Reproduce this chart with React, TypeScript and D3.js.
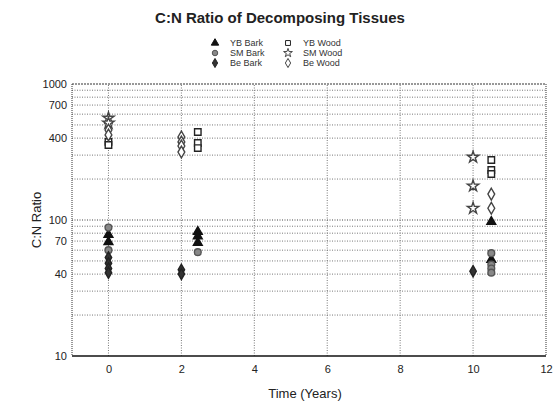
import React, { useRef, useEffect } from "react";
import * as d3 from "d3";

// C:N ratio readings, by tissue type; t = years since start
const ybBark = [
  { t: 0, v: 78 }, { t: 0, v: 69 },
  { t: 2.45, v: 82 }, { t: 2.45, v: 76 }, { t: 2.45, v: 68 },
  { t: 10.5, v: 97 }, { t: 10.5, v: 51 },
];
const ybWood = [
  { t: 0, v: 375 }, { t: 0, v: 356 },
  { t: 2.45, v: 444 }, { t: 2.45, v: 368 }, { t: 2.45, v: 338 },
  { t: 10.5, v: 276 }, { t: 10.5, v: 233 }, { t: 10.5, v: 218 },
];
const smBark = [
  { t: 0, v: 88 }, { t: 0, v: 60 },
  { t: 2.45, v: 58 },
  { t: 10.5, v: 57 }, { t: 10.5, v: 47 }, { t: 10.5, v: 44 }, { t: 10.5, v: 41 },
];
const smWood = [
  { t: 0, v: 562 }, { t: 0, v: 517 },
  { t: 10, v: 290 }, { t: 10, v: 178 }, { t: 10, v: 122 },
];
const beBark = [
  { t: 0, v: 53 }, { t: 0, v: 48 }, { t: 0, v: 44 }, { t: 0, v: 41 },
  { t: 2, v: 43 }, { t: 2, v: 40 },
  { t: 10, v: 42 },
];
const beWood = [
  { t: 0, v: 459 }, { t: 0, v: 422 },
  { t: 2, v: 408 }, { t: 2, v: 375 }, { t: 2, v: 350 }, { t: 2, v: 316 },
  { t: 10.5, v: 155 }, { t: 10.5, v: 122 },
];

const xTicks = [0, 2, 4, 6, 8, 10, 12];
const yLabels = [10, 40, 70, 100, 400, 700, 1000];

const series = [
  { name: "YB Bark", data: ybBark, sym: d3.symbolTriangle, fill: "#111", stroke: "#111", size: 34 },
  { name: "YB Wood", data: ybWood, sym: d3.symbolSquare, fill: "#fff", stroke: "#222", size: 42 },
  { name: "SM Bark", data: smBark, sym: d3.symbolCircle, fill: "#888", stroke: "#555", size: 36 },
  { name: "SM Wood", data: smWood, sym: d3.symbolStar, fill: "#fff", stroke: "#444", size: 40 },
  { name: "Be Bark", data: beBark, sym: d3.symbolDiamond, fill: "#333", stroke: "#222", size: 36 },
  { name: "Be Wood", data: beWood, sym: d3.symbolDiamond, fill: "#fff", stroke: "#444", size: 40 },
];

function App() {
  const svgRef = useRef<any>();

  useEffect(() => {
    const svg = d3.select(svgRef.current);
    svg.selectAll("*").remove();

    const x = d3.scaleLinear().domain([-1, 12]).range([72, 546]);
    const y = d3.scaleLog().domain([10, 1000]).range([356, 84]);
    const font = "Liberation Sans, Arial, sans-serif";

    // gridlines
    const grid = svg.append("g");
    const minors: number[] = [];
    [10, 100].forEach((d) => {
      for (let k = 1; k <= 9; k++) minors.push(d * k);
    });
    grid
      .selectAll("line.h")
      .data(minors.filter((d) => d > 10 && d < 1000))
      .join("line")
      .attr("x1", x(-1))
      .attr("x2", x(12))
      .attr("y1", (d) => y(d))
      .attr("y2", (d) => y(d))
      .attr("stroke", (d) => (d === 100 ? "#444" : "#777"))
      .attr("stroke-width", 1)
      .attr("stroke-dasharray", "1,1.5");
    grid
      .selectAll("line.v")
      .data(xTicks.filter((d) => d > -1 && d < 12))
      .join("line")
      .attr("x1", (d) => x(d))
      .attr("x2", (d) => x(d))
      .attr("y1", y(10))
      .attr("y2", y(1000))
      .attr("stroke", "#777")
      .attr("stroke-dasharray", "1,1.5");

    // frame
    const fr = svg.append("g").attr("fill", "none");
    fr.append("line").attr("x1", x(-1)).attr("x2", x(12)).attr("y1", y(1000)).attr("y2", y(1000))
      .attr("stroke", "#333").attr("stroke-dasharray", "2,1");
    fr.append("line").attr("x1", x(-1)).attr("x2", x(-1)).attr("y1", y(1000)).attr("y2", y(10))
      .attr("stroke", "#333").attr("stroke-dasharray", "1,1");
    fr.append("line").attr("x1", x(12)).attr("x2", x(12)).attr("y1", y(1000)).attr("y2", y(10))
      .attr("stroke", "#333").attr("stroke-dasharray", "1,1");
    fr.append("line").attr("x1", x(-1)).attr("x2", x(12)).attr("y1", y(10)).attr("y2", y(10))
      .attr("stroke", "#111").attr("stroke-width", 1.5);

    // axes
    const yAxis = d3
      .axisLeft(y)
      .tickValues(yLabels)
      .tickFormat((d: any) => String(d))
      .tickSize(0)
      .tickPadding(5);
    svg
      .append("g")
      .attr("transform", `translate(${x(-1)},0)`)
      .call(yAxis)
      .call((g) => g.select(".domain").remove())
      .selectAll("text")
      .attr("font-family", font)
      .attr("font-size", 11)
      .attr("fill", "#222");

    const xAxis = d3.axisBottom(x).tickValues(xTicks).tickSize(0).tickPadding(9);
    svg
      .append("g")
      .attr("transform", `translate(0,${y(10)})`)
      .call(xAxis)
      .call((g) => g.select(".domain").remove())
      .selectAll("text")
      .attr("font-family", font)
      .attr("font-size", 11)
      .attr("fill", "#222");

    // points
    series.forEach((s) => {
      svg
        .append("g")
        .selectAll("path")
        .data(s.data)
        .join("path")
        .attr("transform", (d) => `translate(${x(d.t)},${y(d.v)})`)
        .attr("d", d3.symbol().type(s.sym).size(s.size)())
        .attr("fill", s.fill)
        .attr("stroke", s.stroke)
        .attr("stroke-width", 1.4);
    });

    // legend
    const lg = svg.append("g");
    series.forEach((s, i) => {
      const col = i % 2;
      const row = Math.floor(i / 2);
      const lx = col === 0 ? 215 : 288;
      const ly = 43 + row * 10;
      lg.append("path")
        .attr("transform", `translate(${lx},${ly})`)
        .attr("d", d3.symbol().type(s.sym).size(24)())
        .attr("fill", s.fill)
        .attr("stroke", s.stroke);
      lg.append("text")
        .attr("x", lx + 15)
        .attr("y", ly + 3)
        .attr("font-family", font)
        .attr("font-size", 9)
        .attr("fill", "#333")
        .text(s.name);
    });

    svg
      .append("text")
      .attr("x", 280)
      .attr("y", 23)
      .attr("text-anchor", "middle")
      .attr("font-family", font)
      .attr("font-size", 15)
      .attr("font-weight", "bold")
      .attr("fill", "#222")
      .text("C:N Ratio of Decomposing Tissues");

    svg
      .append("text")
      .attr("transform", `translate(41,220) rotate(-90)`)
      .attr("text-anchor", "middle")
      .attr("font-family", font)
      .attr("font-size", 13)
      .attr("fill", "#222")
      .text("C:N Ratio");

    svg
      .append("text")
      .attr("x", 305)
      .attr("y", 398)
      .attr("text-anchor", "middle")
      .attr("font-family", font)
      .attr("font-size", 13)
      .attr("fill", "#222")
      .text("Time (Years)");
  }, []);

  return (
    <div style={{ position: "absolute", left: 0, top: 0 }}>
      <svg ref={svgRef} width={553} height={404} style={{ display: "block", background: "#fff" }} />
    </div>
  );
}

export default App;
